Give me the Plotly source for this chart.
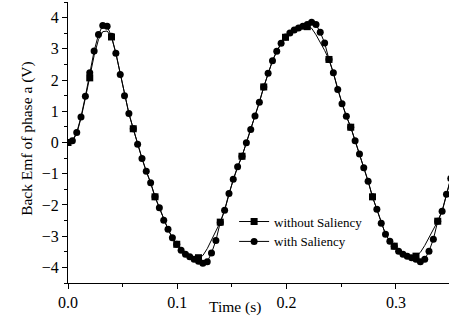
import plotly.graph_objects as go

# Sample times (s)
time_s = [
    0.0000, 0.0040, 0.0080, 0.0119, 0.0159, 0.0199, 0.0239, 0.0279, 0.0318, 0.0358,
    0.0398, 0.0438, 0.0478, 0.0517, 0.0557, 0.0597, 0.0637, 0.0677, 0.0716, 0.0756,
    0.0796, 0.0836, 0.0876, 0.0915, 0.0955, 0.0995, 0.1035, 0.1075, 0.1114, 0.1154,
    0.1194, 0.1234, 0.1274, 0.1313, 0.1353, 0.1393, 0.1433, 0.1473, 0.1512, 0.1552,
    0.1592, 0.1632, 0.1672, 0.1711, 0.1751, 0.1791, 0.1831, 0.1871, 0.1910, 0.1950,
    0.1990, 0.2030, 0.2070, 0.2109, 0.2149, 0.2189, 0.2229, 0.2269, 0.2308, 0.2348,
    0.2388, 0.2428, 0.2468, 0.2507, 0.2547, 0.2587, 0.2627, 0.2667, 0.2706, 0.2746,
    0.2786, 0.2826, 0.2866, 0.2905, 0.2945, 0.2985, 0.3025, 0.3065, 0.3104, 0.3144,
    0.3184, 0.3224, 0.3264, 0.3303, 0.3343, 0.3383, 0.3423, 0.3463, 0.3502,
]

# Back EMF of phase a (V), model without saliency
emf_without = [
    0.00, 0.04, 0.28, 0.78, 1.42, 2.07, 2.78, 3.30, 3.55, 3.57,
    3.38, 2.86, 2.18, 1.50, 0.93, 0.44, -0.06, -0.51, -0.92, -1.29,
    -1.74, -2.09, -2.49, -2.78, -3.05, -3.26, -3.45, -3.56, -3.63, -3.68,
    -3.69, -3.62, -3.40, -3.12, -2.83, -2.55, -2.17, -1.63, -1.18, -0.78,
    -0.44, -0.01, 0.42, 0.85, 1.29, 1.78, 2.22, 2.62, 2.92, 3.17,
    3.37, 3.50, 3.59, 3.65, 3.69, 3.71, 3.66, 3.45, 3.22, 2.95,
    2.66, 2.23, 1.70, 1.24, 0.84, 0.49, 0.06, -0.37, -0.81, -1.24,
    -1.74, -2.14, -2.59, -2.94, -3.16, -3.32, -3.47, -3.56, -3.61, -3.64,
    -3.64, -3.52, -3.30, -3.04, -2.78, -2.52, -2.20, -1.66, -1.15,
]

# Back EMF of phase a (V), model with saliency
emf_with = [
    0.00, 0.06, 0.32, 0.82, 1.48, 2.23, 2.93, 3.46, 3.75, 3.72,
    3.40, 2.86, 2.18, 1.50, 0.93, 0.44, -0.06, -0.51, -0.92, -1.29,
    -1.74, -2.09, -2.49, -2.78, -3.05, -3.26, -3.45, -3.58, -3.66, -3.74,
    -3.80, -3.87, -3.82, -3.54, -3.14, -2.56, -2.17, -1.63, -1.18, -0.78,
    -0.44, -0.01, 0.42, 0.85, 1.29, 1.78, 2.22, 2.62, 2.92, 3.18,
    3.38, 3.51, 3.60, 3.67, 3.72, 3.78, 3.85, 3.78, 3.53, 3.19,
    2.66, 2.23, 1.70, 1.24, 0.84, 0.49, 0.06, -0.37, -0.81, -1.24,
    -1.74, -2.14, -2.59, -2.94, -3.16, -3.32, -3.48, -3.58, -3.64, -3.69,
    -3.74, -3.82, -3.74, -3.48, -3.10, -2.52, -2.20, -1.66, -1.15,
]

x_tick_vals = [0.0, 0.1, 0.2, 0.3]
x_tick_text = ["0.0", "0.1", "0.2", "0.3"]
y_tick_vals = [-4, -3, -2, -1, 0, 1, 2, 3, 4]

SERIF = "Liberation Serif"
MARKER_STEP = 5  # squares drawn on every 5th sample of the no-saliency curve

fig = go.Figure()

# No-saliency curve: continuous line plus sparse square markers
fig.add_trace(go.Scatter(
    x=time_s, y=emf_without, mode="lines",
    line=dict(color="black", width=1),
    showlegend=False, legendgroup="without", hoverinfo="skip",
))
fig.add_trace(go.Scatter(
    x=time_s[::MARKER_STEP], y=emf_without[::MARKER_STEP], mode="markers",
    marker=dict(symbol="square", size=7, color="black"),
    showlegend=False, legendgroup="without",
))
# Legend entry for the no-saliency curve
fig.add_trace(go.Scatter(
    x=[None], y=[None], mode="lines+markers", name="without Saliency",
    line=dict(color="black", width=1),
    marker=dict(symbol="square", size=7, color="black"),
    legendgroup="without",
))
# Saliency curve: every sample marked with a circle
fig.add_trace(go.Scatter(
    x=time_s, y=emf_with, mode="lines+markers", name="with Saliency",
    line=dict(color="black", width=1),
    marker=dict(symbol="circle", size=7, color="black"),
))

axis_common = dict(
    showline=True, linecolor="black", linewidth=1,
    ticks="outside", ticklen=5, tickwidth=1, tickcolor="black",
    showgrid=False, zeroline=False,
    tickfont=dict(family=SERIF, size=16, color="black"),
)

fig.update_layout(
    width=449, height=324,
    margin=dict(l=68, r=0, t=2, b=41),
    paper_bgcolor="white", plot_bgcolor="white",
    font=dict(family=SERIF, color="black"),
    xaxis=dict(
        range=[0, 0.3486], tickvals=x_tick_vals, ticktext=x_tick_text,
        minor=dict(dtick=0.05, tick0=0, ticks="outside", ticklen=3,
                   tickcolor="black", showgrid=False),
        **axis_common,
    ),
    yaxis=dict(
        range=[-4.5, 4.5], tickvals=y_tick_vals,
        minor=dict(dtick=0.5, tick0=0, ticks="outside", ticklen=3,
                   tickcolor="black", showgrid=False),
        **axis_common,
    ),
    legend=dict(
        x=0.436, y=0.272, xanchor="left", yanchor="top",
        bgcolor="rgba(0,0,0,0)", borderwidth=0,
        font=dict(family=SERIF, size=13, color="black"),
        tracegroupgap=0,
    ),
    annotations=[
        dict(text="Time (s)", xref="x", yref="paper", x=0.1528, y=-0.085,
             xanchor="center", yanchor="middle", showarrow=False,
             font=dict(family=SERIF, size=15.5, color="black")),
        dict(text="Back Emf of phase a (V)", xref="paper", yref="paper",
             x=-0.108, y=0.516, textangle=-90, xanchor="center",
             yanchor="middle", showarrow=False,
             font=dict(family=SERIF, size=15.5, color="black")),
    ],
)

fig.write_html("out.html")
